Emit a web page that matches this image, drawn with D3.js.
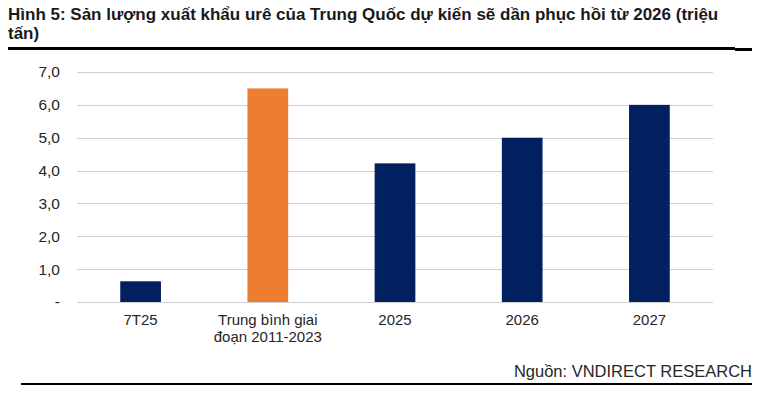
<!DOCTYPE html>
<html>
<head>
<meta charset="utf-8">
<script src="https://cdn.jsdelivr.net/npm/d3@7"></script>
<style>
  body { margin: 0; background: #fff; }
  text { font-family: "Liberation Sans", Arial, sans-serif; }
</style>
</head>
<body>
<script>
const categories = ["7T25", "Trung bình giai|đoạn 2011-2023", "2025", "2026", "2027"];
const values = [0.63, 6.5, 4.22, 5.0, 6.0];
const barColors = ["#002060", "#ED7D31", "#002060", "#002060", "#002060"];
const yTicks = [0, 1, 2, 3, 4, 5, 6, 7];

const width = 761, height = 396;
const margin = { top: 72, right: 48, bottom: 94, left: 77 };
const innerWidth = width - margin.left - margin.right;
const innerHeight = height - margin.top - margin.bottom;

const svg = d3.select("body").append("svg")
  .attr("width", width)
  .attr("height", height);

// title
const title = svg.append("text")
  .attr("x", 8)
  .attr("y", 20)
  .attr("font-size", 17)
  .attr("font-weight", "bold")
  .attr("fill", "#1a1a1a");
title.append("tspan").attr("x", 8).text("Hình 5: Sản lượng xuất khẩu urê của Trung Quốc dự kiến sẽ dần phục hồi từ 2026 (triệu");
title.append("tspan").attr("x", 8).attr("dy", 19).text("tấn)");

svg.append("rect").attr("x", 8).attr("y", 47).attr("width", 727).attr("height", 3).attr("fill", "#000");
svg.append("rect").attr("x", 735).attr("y", 48).attr("width", 17).attr("height", 3).attr("fill", "#000");

const x = d3.scaleBand()
  .domain(categories)
  .range([0, innerWidth])
  .paddingInner(0.68)
  .paddingOuter(0.34);

const y = d3.scaleLinear()
  .domain([0, 7])
  .range([innerHeight, 0]);

const g = svg.append("g").attr("transform", `translate(${margin.left},${margin.top})`);

// gridlines
g.append("g")
  .selectAll("line")
  .data(yTicks)
  .join("line")
  .attr("x1", 0)
  .attr("x2", innerWidth)
  .attr("y1", (d) => Math.round(y(d)) + 0.5)
  .attr("y2", (d) => Math.round(y(d)) + 0.5)
  .attr("stroke", "#d0d0d0")
  .attr("stroke-width", 1.2);

// y labels
g.append("g")
  .selectAll("text")
  .data(yTicks)
  .join("text")
  .attr("x", -17)
  .attr("y", (d) => y(d))
  .attr("dy", "0.35em")
  .attr("text-anchor", "end")
  .attr("font-size", 15.5)
  .attr("fill", "#262626")
  .text((d) => (d === 0 ? "-" : d3.format(".1f")(d).replace(".", ",")));

// bars
g.append("g")
  .selectAll("rect")
  .data(values)
  .join("rect")
  .attr("x", (d, i) => x(categories[i]))
  .attr("y", (d) => y(d))
  .attr("width", x.bandwidth())
  .attr("height", (d) => y(0) - y(d))
  .attr("fill", (d, i) => barColors[i]);

// x labels
g.append("g")
  .selectAll("text")
  .data(categories)
  .join("text")
  .attr("x", (d) => x(d) + x.bandwidth() / 2)
  .attr("y", innerHeight + 23)
  .attr("text-anchor", "middle")
  .attr("font-size", 15)
  .attr("fill", "#262626")
  .each(function (d) {
    const parts = d.split("|");
    const t = d3.select(this);
    parts.forEach((p, i) => {
      t.append("tspan")
        .attr("x", x(d) + x.bandwidth() / 2)
        .attr("dy", i === 0 ? 0 : 17)
        .text(p);
    });
  });

// source
svg.append("text")
  .attr("x", 752)
  .attr("y", 377)
  .attr("text-anchor", "end")
  .attr("font-size", 16.5)
  .attr("fill", "#262626")
  .text("Nguồn: VNDIRECT RESEARCH");

svg.append("rect").attr("x", 21).attr("y", 383).attr("width", 731).attr("height", 2).attr("fill", "#000");
</script>
</body>
</html>
